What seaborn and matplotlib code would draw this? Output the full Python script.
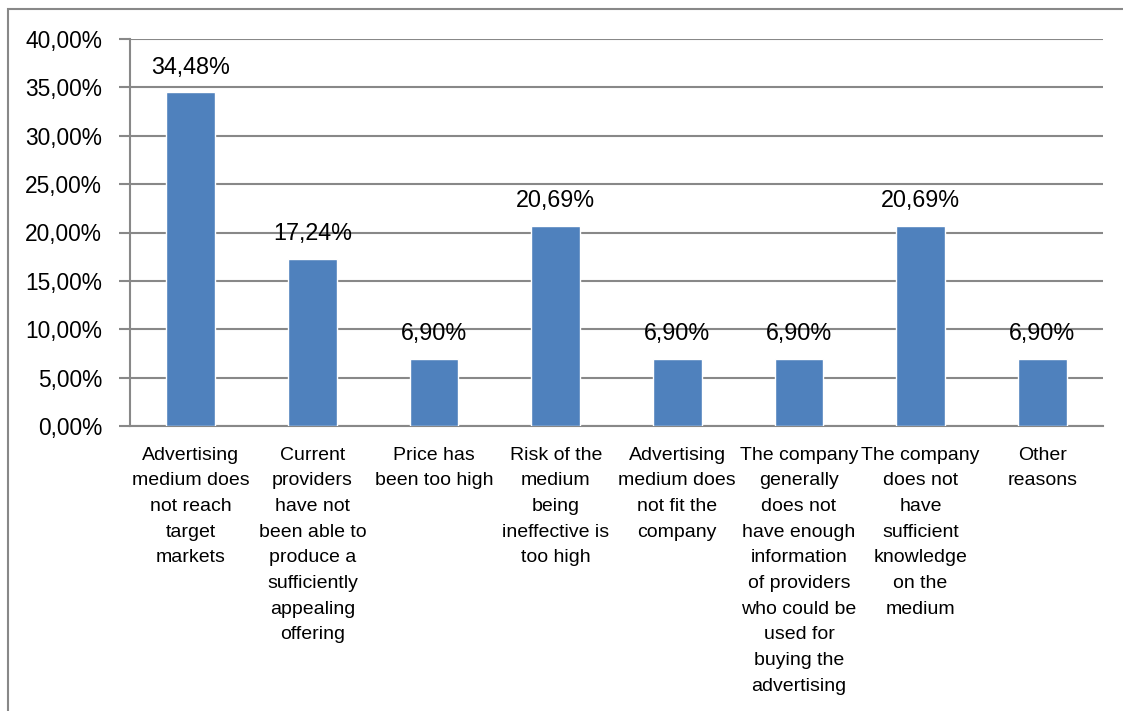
import pandas as pd
import matplotlib.pyplot as plt
import matplotlib.patches as mpatches
from matplotlib.ticker import FixedLocator
import seaborn as sns

# data
categories = [
    "Advertising\nmedium does\nnot reach\ntarget\nmarkets",
    "Current\nproviders\nhave not\nbeen able to\nproduce a\nsufficiently\nappealing\noffering",
    "Price has\nbeen too high",
    "Risk of the\nmedium\nbeing\nineffective is\ntoo high",
    "Advertising\nmedium does\nnot fit the\ncompany",
    "The company\ngenerally\ndoes not\nhave enough\ninformation\nof providers\nwho could be\nused for\nbuying the\nadvertising",
    "The company\ndoes not\nhave\nsufficient\nknowledge\non the\nmedium",
    "Other\nreasons",
]
values = [34.48, 17.24, 6.90, 20.69, 6.90, 6.90, 20.69, 6.90]
y_ticks = [0, 5, 10, 15, 20, 25, 30, 35, 40]

df = pd.DataFrame({"Reason": categories, "Share": values})

sns.set_theme(style="white")
plt.rcParams["font.family"] = ["Liberation Sans", "DejaVu Sans"]
plt.rcParams["text.color"] = "black"
plt.rcParams["xtick.color"] = "black"
plt.rcParams["ytick.color"] = "black"

grid_col = "#888888"
fig = plt.figure(figsize=(11.23, 7.11), dpi=100)
ax = fig.add_axes([130 / 1123, 1 - 426 / 711, (1103 - 130) / 1123, (426 - 39) / 711])

sns.barplot(data=df, x="Reason", y="Share", color="#4F81BD", saturation=1,
            width=0.4, ax=ax, zorder=3)

ax.set_ylim(0, 40)
ax.set_xlim(-0.5, len(categories) - 0.5)
ax.set_yticks(y_ticks)
ax.set_yticklabels([f"{t:.2f}%".replace(".", ",") for t in y_ticks], fontsize=16.4)
ax.yaxis.grid(True, color=grid_col, linewidth=1.5, zorder=0)
ax.set_axisbelow(True)

# category labels centered, ticks at the boundaries
ax.set_xticks(range(len(categories)))
ax.set_xticklabels(categories, fontsize=14, linespacing=1.665, va="top")
ax.tick_params(axis="x", which="major", length=0, pad=15)
ax.xaxis.set_minor_locator(FixedLocator([i - 0.5 for i in range(len(categories) + 1)]))
ax.tick_params(axis="x", which="minor", length=8, width=1.5, color=grid_col, direction="out")
ax.tick_params(axis="y", length=8, width=1.5, color=grid_col, labelcolor="black",
               direction="out", pad=12, left=True)
ax.set_xlabel("")
ax.set_ylabel("")

for s in ["top", "right"]:
    ax.spines[s].set_visible(False)
for s in ["left", "bottom"]:
    ax.spines[s].set_color(grid_col)
    ax.spines[s].set_linewidth(1.5)

for i, v in enumerate(values):
    ax.annotate(f"{v:.2f}%".replace(".", ","), (i, v), xytext=(0, 10),
                textcoords="offset points", ha="center", va="bottom",
                fontsize=16.8, color="black")

# chart area frame (left and top edges visible)
fig.patches.append(mpatches.Rectangle((8 / 1123, -0.1), 1.2, 1 - 9 / 711 + 0.1,
                                      transform=fig.transFigure, fill=False,
                                      edgecolor=grid_col, linewidth=1.5))

fig.savefig("out.png", dpi=100)
